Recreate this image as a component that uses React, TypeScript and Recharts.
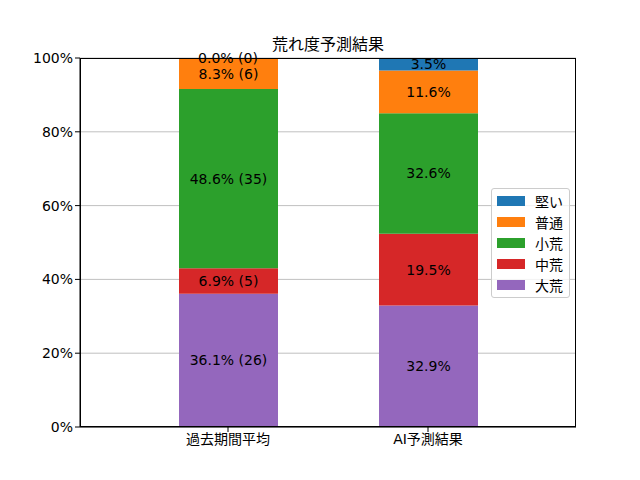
import { BarChart, Bar, XAxis, YAxis, CartesianGrid, LabelList, ReferenceDot } from "recharts";

const categories = ["過去期間平均", "AI予測結果"];
// stack order, bottom to top
const seriesNames = ["大荒", "中荒", "小荒", "普通", "堅い"];
const seriesColors = ["#9467bd", "#d62728", "#2ca02c", "#ff7f0e", "#1f77b4"];
const pastPct = [36.1, 6.9, 48.6, 8.3, 0.0];
const pastCounts = [26, 5, 35, 6, 0];
const aiPct = [32.9, 19.5, 32.6, 11.6, 3.5];
const yTicks = [0, 20, 40, 60, 80, 100];

const FONT = "'DejaVu Sans', 'Noto Sans CJK JP', sans-serif";
const FS = 14;

const pctFor = (ci: number) => (ci === 0 ? pastPct : aiPct);
const labelFor = (ci: number, si: number) => {
  const v = pctFor(ci)[si];
  return ci === 0 ? `${v.toFixed(1)}% (${pastCounts[si]})` : `${v.toFixed(1)}%`;
};

const data = categories.map((name, ci) => {
  const row: Record<string, string | number> = { name };
  seriesNames.forEach((_, si) => {
    row["s" + si] = pctFor(ci)[si];
    row["l" + si] = labelFor(ci, si);
  });
  return row;
});

// zero-height segments get no rect, so their labels go on a reference dot
const zeroLabels: { x: string; y: number; text: string }[] = [];
categories.forEach((name, ci) => {
  let cum = 0;
  seriesNames.forEach((_, si) => {
    const v = pctFor(ci)[si];
    if (v === 0) zeroLabels.push({ x: name, y: cum, text: labelFor(ci, si) });
    cum += v;
  });
});

const LegendBox = () => {
  const items = seriesNames.map((n, i) => ({ n, c: seriesColors[i] })).reverse();
  return (
    <div
      style={{
        position: "absolute",
        left: 491,
        top: 188,
        width: 79,
        height: 110,
        border: "1px solid #cccccc",
        borderRadius: 3,
        background: "rgba(255,255,255,0.8)",
        fontFamily: FONT,
        fontSize: FS,
        boxSizing: "border-box",
        paddingTop: 1,
      }}
    >
      {items.map((it) => (
        <div
          key={it.n}
          style={{ display: "flex", alignItems: "center", height: 21, paddingLeft: 5 }}
        >
          <div style={{ width: 28, height: 10, background: it.c, marginRight: 10 }} />
          <span>{it.n}</span>
        </div>
      ))}
    </div>
  );
};

export default function App() {
  return (
    <div style={{ position: "absolute", left: 0, top: 0, width: 640, height: 480, background: "#fff" }}>
      <div
        style={{
          position: "absolute",
          left: 80,
          width: 496,
          top: 31,
          textAlign: "center",
          fontFamily: FONT,
          fontSize: 16,
        }}
      >
        荒れ度予測結果
      </div>
      <BarChart
        width={640}
        height={480}
        data={data}
        margin={{ top: 58, right: 64, left: 20, bottom: 23 }}
        style={{ fontFamily: FONT }}
      >
        <CartesianGrid horizontal vertical={false} stroke="#b0b0b0" strokeWidth={0.8} />
        <XAxis
          dataKey="name"
          padding={{ left: 48, right: 48 }}
          height={30}
          stroke="#000"
          tickLine={{ stroke: "#000" }}
          tickSize={5}
          tick={{ fill: "#000", fontSize: FS }}
        />
        <YAxis
          domain={[0, 100]}
          ticks={yTicks}
          allowDataOverflow
          width={60}
          stroke="#000"
          tickSize={5}
          tick={{ fill: "#000", fontSize: FS }}
          tickFormatter={(v: number) => `${v}%`}
        />
        {seriesNames.map((n, si) => (
          <Bar
            key={n}
            dataKey={"s" + si}
            name={n}
            stackId="a"
            fill={seriesColors[si]}
            barSize={99}
            isAnimationActive={false}
          >
            <LabelList dataKey={"l" + si} position="center" fill="#000" fontSize={FS} />
          </Bar>
        ))}
        {zeroLabels.map((z) => (
          <ReferenceDot
            key={z.x + z.text}
            x={z.x}
            y={z.y}
            r={0}
            ifOverflow="visible"
            label={{ value: z.text, position: "center", fill: "#000", fontSize: FS }}
          />
        ))}
      </BarChart>
      <div
        style={{
          position: "absolute",
          left: 80,
          top: 58,
          width: 496,
          height: 369,
          border: "1px solid #000",
          boxSizing: "border-box",
          pointerEvents: "none",
        }}
      />
      <LegendBox />
    </div>
  );
}
